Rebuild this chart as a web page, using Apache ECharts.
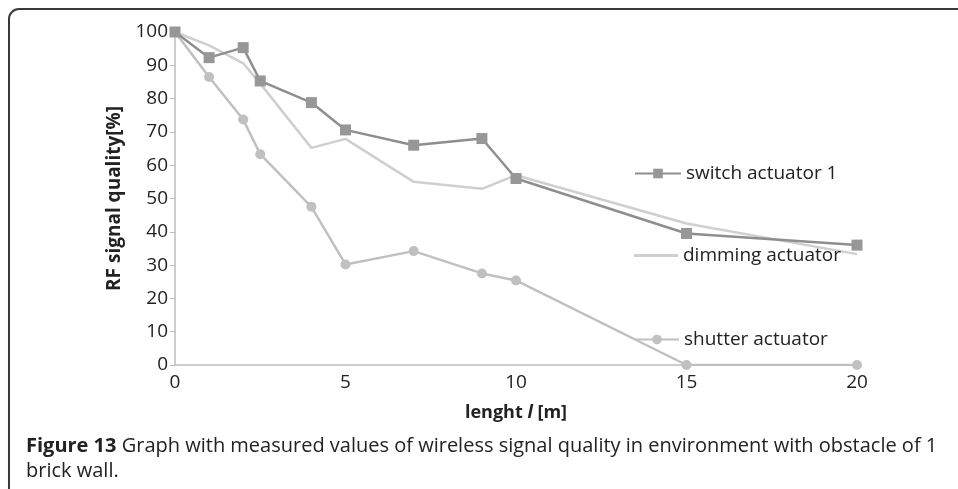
<!DOCTYPE html>
<html>
<head>
<meta charset="utf-8">
<script src="https://cdn.jsdelivr.net/npm/echarts@6/dist/echarts.min.js"></script>
<style>
html,body{margin:0;padding:0;background:#fff;}
#chart{width:958px;height:489px;}
</style>
</head>
<body>
<div id="chart"></div>
<script>
// Data
var lengths = [0, 1, 2, 2.5, 4, 5, 7, 9, 10, 15, 20];
var switchActuator = [100, 92.3, 95.3, 85.3, 78.8, 70.6, 66, 68, 56, 39.5, 36];
var dimmingActuator = [100, 96, 90.6, 84.5, 65.2, 67.9, 55, 52.9, 57, 42.5, 33.3];
var shutterActuator = [100, 86.5, 73.7, 63.3, 47.5, 30.2, 34.2, 27.5, 25.4, 0, 0];
var seriesNames = ['switch actuator 1', 'dimming actuator', 'shutter actuator'];
var xTicks = [0, 5, 10, 15, 20];
var yTicks = [0, 10, 20, 30, 40, 50, 60, 70, 80, 90, 100];

function pairs(xs, ys) { return xs.map(function (x, i) { return [x, ys[i]]; }); }

var chart = echarts.init(document.getElementById('chart'));
var font = 'Open Sans';
var legendText = { fontFamily: font, fontSize: 19, color: '#222' };
chart.setOption({
  animation: false,
  backgroundColor: '#fff',
  textStyle: { fontFamily: font },
  graphic: [{
    type: 'rect',
    shape: { x: 9, y: 9, width: 1100, height: 1000, r: 10 },
    style: { fill: 'none', stroke: '#3a3a3a', lineWidth: 2 },
    silent: true
  }],
  title: {
    left: 26, top: 434, padding: 0,
    text: '{b|Figure 13} Graph with measured values of wireless signal quality in environment with obstacle of 1\nbrick wall.',
    textStyle: {
      fontFamily: font, fontSize: 20, color: '#222', fontWeight: 'normal', lineHeight: 25,
      rich: { b: { fontFamily: font, fontSize: 20, fontWeight: 'bold', color: '#222', lineHeight: 25 } }
    }
  },
  grid: { left: 175, right: 101, top: 32, bottom: 124, containLabel: false },
  xAxis: {
    type: 'value', min: xTicks[0], max: xTicks[xTicks.length - 1], interval: 5,
    axisLine: { lineStyle: { color: '#bdbdbd', width: 1.5 } },
    axisTick: { show: false },
    splitLine: { show: false },
    axisLabel: { color: '#222', fontSize: 19, fontFamily: font, margin: 8 },
    name: '{n|lenght }{i|l}{n| [m]}',
    nameLocation: 'middle', nameGap: 39,
    nameTextStyle: {
      rich: {
        n: { fontFamily: font, fontSize: 18, fontWeight: 'bold', color: '#222' },
        i: { fontFamily: font, fontSize: 18, fontWeight: 'bold', fontStyle: 'italic', color: '#222' }
      }
    }
  },
  yAxis: {
    type: 'value', min: yTicks[0], max: yTicks[yTicks.length - 1], interval: 10,
    axisLine: { show: true, lineStyle: { color: '#bdbdbd', width: 1.5 } },
    axisTick: { show: true, length: 5, lineStyle: { color: '#bdbdbd' } },
    splitLine: { show: false },
    axisLabel: { color: '#222', fontSize: 19, fontFamily: font, margin: 7 },
    name: 'RF signal quality[%]',
    nameLocation: 'middle', nameGap: 44,
    nameTextStyle: { fontFamily: font, fontSize: 19, fontWeight: 'bold', color: '#222' }
  },
  legend: [
    { data: [seriesNames[0]], left: 634, top: 164, padding: 0, itemWidth: 46, itemHeight: 12, textStyle: legendText },
    { data: [{ name: seriesNames[1], icon: 'rect' }], left: 634, top: 246, padding: 0, itemWidth: 44, itemHeight: 3, textStyle: legendText },
    { data: [seriesNames[2]], left: 634, top: 330, padding: 0, itemWidth: 44, itemHeight: 12, textStyle: legendText }
  ],
  series: [
    {
      name: seriesNames[2], type: 'line', data: pairs(lengths, shutterActuator),
      symbol: 'circle', symbolSize: 10,
      lineStyle: { color: '#c0c0c0', width: 2.5 },
      itemStyle: { color: '#c0c0c0' }, z: 2
    },
    {
      name: seriesNames[1], type: 'line', data: pairs(lengths, dimmingActuator),
      symbol: 'none', showSymbol: false,
      lineStyle: { color: '#cfcfcf', width: 2.5 },
      itemStyle: { color: '#cfcfcf' }, z: 3
    },
    {
      name: seriesNames[0], type: 'line', data: pairs(lengths, switchActuator),
      symbol: 'rect', symbolSize: 11,
      lineStyle: { color: '#8e8e8e', width: 2.5 },
      itemStyle: { color: '#979797' }, z: 4
    }
  ]
});
</script>
</body>
</html>
